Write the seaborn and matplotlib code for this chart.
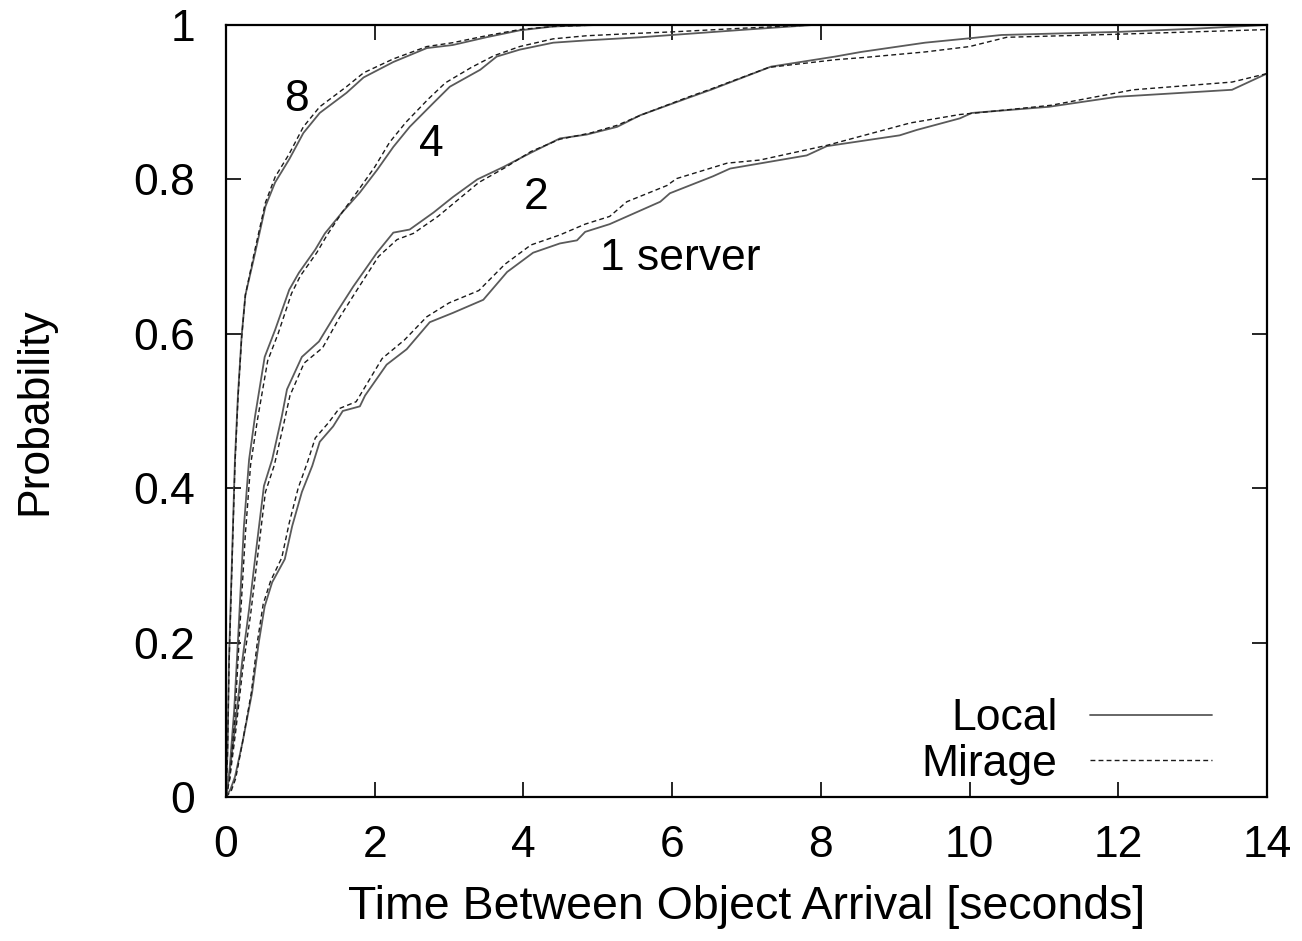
import matplotlib
matplotlib.use("Agg")
import matplotlib.pyplot as plt
import seaborn as sns

# ── Data: CDF of time between object arrivals ────────────────────────────

# 1 server
t_local_1 = [0, 0.06, 0.12, 0.22, 0.35, 0.44, 0.52, 0.62, 0.79, 0.89, 1.02, 1.16,
             1.26, 1.44, 1.57, 1.8, 1.87, 2.16, 2.43, 2.74, 3.05, 3.46, 3.78, 4.13,
             4.49, 4.72, 4.83, 5.16, 5.84, 5.97, 6.55, 6.78, 7.81, 8.08, 9.06, 9.29,
             9.87, 10.03, 11.07, 11.99, 13.53, 14.0]
p_local_1 = [0, 0.01, 0.026, 0.07, 0.135, 0.2, 0.247, 0.278, 0.308, 0.351, 0.395, 0.429,
             0.46, 0.48, 0.50, 0.506, 0.52, 0.56, 0.58, 0.615, 0.627, 0.644, 0.68, 0.705,
             0.717, 0.721, 0.732, 0.742, 0.771, 0.782, 0.804, 0.814, 0.831, 0.843, 0.857, 0.864,
             0.879, 0.886, 0.894, 0.907, 0.916, 0.937]
t_mirage_1 = [0, 0.07, 0.13, 0.22, 0.34, 0.42, 0.5, 0.6, 0.75, 0.85, 0.97, 1.1,
              1.2, 1.38, 1.52, 1.75, 1.85, 2.1, 2.4, 2.7, 3.0, 3.4, 3.75, 4.1,
              4.49, 4.83, 5.16, 5.39, 5.93, 6.06, 6.74, 7.18, 8.08, 9.2, 9.87, 10.5,
              11.1, 12.2, 13.53, 14.0]
p_mirage_1 = [0, 0.008, 0.024, 0.07, 0.135, 0.2, 0.25, 0.28, 0.31, 0.355, 0.4, 0.435,
              0.465, 0.485, 0.503, 0.512, 0.528, 0.568, 0.592, 0.622, 0.64, 0.656, 0.69, 0.715,
              0.728, 0.742, 0.752, 0.771, 0.792, 0.801, 0.821, 0.825, 0.844, 0.873, 0.884, 0.89,
              0.896, 0.916, 0.926, 0.937]

# 2 servers
t_local_2 = [0, 0.04, 0.12, 0.22, 0.31, 0.39, 0.51, 0.62, 0.75, 0.82, 1.02, 1.25,
             1.49, 1.71, 2.03, 2.25, 2.47, 2.79, 3.05, 3.38, 3.73, 4.09, 4.49, 4.85,
             5.26, 5.57, 6.2, 6.52, 7.33, 8.19, 8.54, 9.4, 10.03, 10.43, 12.0, 13.0, 14.0]
p_local_2 = [0, 0.026, 0.09, 0.178, 0.243, 0.308, 0.403, 0.437, 0.493, 0.528, 0.57, 0.59,
             0.628, 0.661, 0.705, 0.731, 0.735, 0.757, 0.777, 0.8, 0.816, 0.834, 0.853, 0.858,
             0.868, 0.883, 0.905, 0.916, 0.946, 0.959, 0.965, 0.977, 0.983, 0.987, 0.991, 0.995, 1.0]
t_mirage_2 = [0, 0.05, 0.13, 0.23, 0.33, 0.41, 0.53, 0.65, 0.78, 0.86, 1.05, 1.3,
              1.52, 1.75, 2.05, 2.3, 2.52, 2.85, 3.1, 3.4, 3.75, 4.1, 4.49, 4.9,
              5.26, 5.6, 6.2, 6.55, 7.3, 8.2, 8.6, 9.4, 10.0, 10.5, 12.0, 13.0, 14.0]
p_mirage_2 = [0, 0.024, 0.085, 0.17, 0.236, 0.3, 0.395, 0.43, 0.485, 0.52, 0.562, 0.582,
              0.62, 0.655, 0.7, 0.722, 0.73, 0.752, 0.772, 0.796, 0.815, 0.836, 0.852, 0.86,
              0.87, 0.884, 0.906, 0.918, 0.945, 0.955, 0.958, 0.965, 0.972, 0.984, 0.988, 0.991, 0.994]

# 4 servers
t_local_4 = [0, 0.04, 0.11, 0.17, 0.24, 0.31, 0.39, 0.52, 0.66, 0.85, 0.98, 1.2,
             1.33, 1.56, 1.8, 2.03, 2.25, 2.47, 2.79, 3.01, 3.42, 3.64, 3.95, 4.4,
             4.85, 5.57, 6.0, 7.0, 7.9, 9.0]
p_local_4 = [0, 0.026, 0.113, 0.22, 0.35, 0.437, 0.493, 0.57, 0.605, 0.657, 0.679, 0.709,
             0.73, 0.757, 0.783, 0.812, 0.842, 0.868, 0.899, 0.92, 0.942, 0.959, 0.968, 0.977,
             0.98, 0.984, 0.987, 0.994, 1.0, 1.0]
t_mirage_4 = [0, 0.05, 0.12, 0.18, 0.26, 0.33, 0.42, 0.56, 0.7, 0.88, 1.0, 1.22,
              1.36, 1.56, 1.78, 2.0, 2.2, 2.42, 2.72, 2.95, 3.3, 3.6, 3.95, 4.4,
              4.85, 5.5, 6.0, 7.0, 7.9, 9.0]
p_mirage_4 = [0, 0.024, 0.105, 0.21, 0.34, 0.43, 0.487, 0.565, 0.6, 0.652, 0.675, 0.705,
              0.728, 0.757, 0.786, 0.816, 0.848, 0.874, 0.904, 0.925, 0.945, 0.96, 0.972, 0.982,
              0.986, 0.989, 0.991, 0.996, 1.0, 1.0]

# 8 servers
t_local_8 = [0, 0.02, 0.04, 0.08, 0.12, 0.16, 0.21, 0.26, 0.38, 0.53, 0.66, 0.85,
             1.04, 1.26, 1.62, 1.85, 2.25, 2.7, 3.05, 3.5, 3.95, 4.4, 5.0, 6.0]
p_local_8 = [0, 0.06, 0.178, 0.308, 0.437, 0.52, 0.597, 0.65, 0.70, 0.765, 0.796, 0.826,
             0.86, 0.886, 0.912, 0.932, 0.952, 0.97, 0.974, 0.984, 0.993, 0.998, 1.0, 1.0]
t_mirage_8 = [0, 0.02, 0.04, 0.08, 0.12, 0.16, 0.21, 0.26, 0.38, 0.53, 0.66, 0.85,
              1.04, 1.26, 1.62, 1.85, 2.25, 2.7, 3.05, 3.5, 3.95, 4.4, 5.0, 6.0]
p_mirage_8 = [0, 0.055, 0.17, 0.3, 0.43, 0.515, 0.595, 0.65, 0.705, 0.77, 0.803, 0.833,
              0.868, 0.894, 0.92, 0.938, 0.956, 0.972, 0.977, 0.986, 0.994, 0.998, 1.0, 1.0]

curve_labels = ["1 server", "2", "4", "8"]
label_pos = [(5.03, 0.698, "left"), (4.17, 0.777, "center"),
             (2.76, 0.845, "center"), (0.95, 0.903, "center")]

x_ticks = [0, 2, 4, 6, 8, 10, 12, 14]
y_ticks = [0, 0.2, 0.4, 0.6, 0.8, 1.0]
y_tick_labels = ["0", "0.2", "0.4", "0.6", "0.8", "1"]

# ── Style ────────────────────────────────────────────────────────────────
sns.set_style("ticks")
plt.rcParams["font.family"] = ["Liberation Sans", "DejaVu Sans"]
plt.rcParams["font.size"] = 32
plt.rcParams["text.color"] = "black"
plt.rcParams["axes.labelcolor"] = "black"

LOCAL_KW = dict(color="#5a5a5a", linewidth=1.3)
MIRAGE_KW = dict(color="#1a1a1a", linewidth=1.0, dashes=(3.5, 2.3))

fig = plt.figure(figsize=(13.02, 9.41), dpi=100)
ax = fig.add_axes([0.1736, 0.153, 0.7995, 0.8205])

series = [
    (t_local_1, p_local_1, t_mirage_1, p_mirage_1),
    (t_local_2, p_local_2, t_mirage_2, p_mirage_2),
    (t_local_4, p_local_4, t_mirage_4, p_mirage_4),
    (t_local_8, p_local_8, t_mirage_8, p_mirage_8),
]

for i, (tl, pl, tm, pm) in enumerate(series):
    sns.lineplot(x=tl, y=pl, ax=ax, estimator=None, sort=False,
                 label="Local" if i == 0 else None, **LOCAL_KW)
    sns.lineplot(x=tm, y=pm, ax=ax, estimator=None, sort=False,
                 label="Mirage" if i == 0 else None,
                 color=MIRAGE_KW["color"], linewidth=MIRAGE_KW["linewidth"])
    ax.lines[-1].set_dashes(MIRAGE_KW["dashes"])

for text, (x, y, ha) in zip(curve_labels, label_pos):
    ax.text(x, y, text, ha=ha, va="center", fontsize=32, color="black")

ax.set_xlim(0, 14)
ax.set_ylim(0, 1)
ax.set_xticks(x_ticks)
ax.set_xticklabels([str(t) for t in x_ticks])
ax.set_yticks(y_ticks)
ax.set_yticklabels(y_tick_labels)
ax.tick_params(axis="both", direction="in", length=11, width=1.2,
               top=True, right=True, labelsize=32, colors="black")
ax.tick_params(axis="x", pad=20)
ax.tick_params(axis="y", pad=22)
for spine in ax.spines.values():
    spine.set_linewidth(1.6)
    spine.set_color("black")

ax.set_xlabel("Time Between Object Arrival [seconds]", fontsize=33.5, labelpad=14)
ax.set_ylabel("Probability", fontsize=32, labelpad=56)

handles, labels = ax.get_legend_handles_labels()
ax.legend(handles, labels, loc="lower right", bbox_to_anchor=(0.947, 0.016),
          frameon=False, markerfirst=False, handlelength=2.75, handletextpad=0.72,
          labelspacing=0.1, borderpad=0, borderaxespad=0, fontsize=32)

fig.savefig("out.png", dpi=100)
